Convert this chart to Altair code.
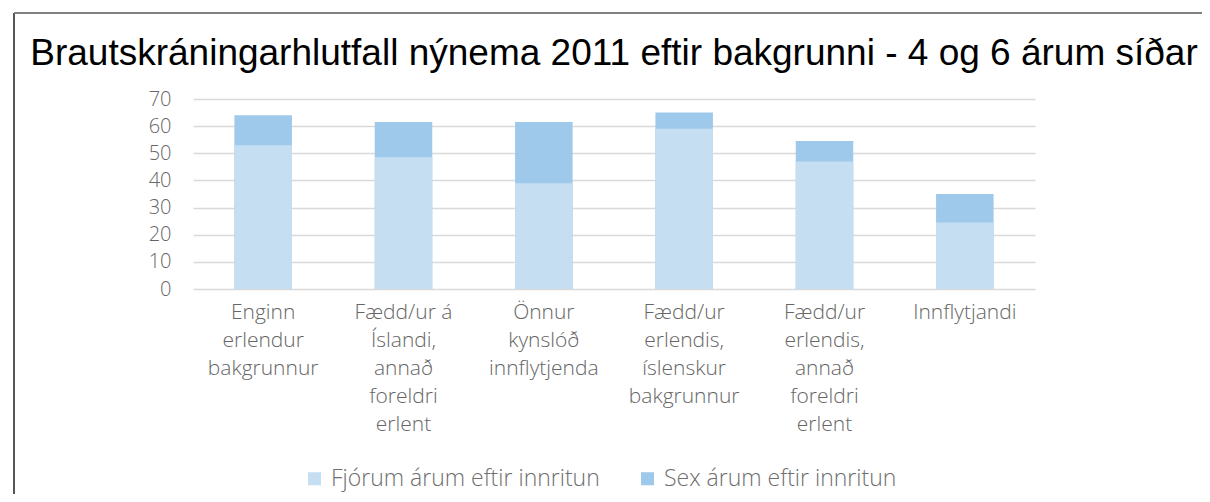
import altair as alt
import pandas as pd

categories = [
    "Enginn\nerlendur\nbakgrunnur",
    "Fædd/ur á\nÍslandi,\nannað\nforeldri\nerlent",
    "Önnur\nkynslóð\ninnflytjenda",
    "Fædd/ur\nerlendis,\níslenskur\nbakgrunnur",
    "Fædd/ur\nerlendis,\nannað\nforeldri\nerlent",
    "Innflytjandi",
]
series = ["Fjórum árum eftir innritun", "Sex árum eftir innritun"]
four_years = [53, 48.5, 39, 59, 47, 24.5]
six_years = [64, 61.5, 61.5, 65, 54.5, 35]
colors = ["#C6DEF2", "#9FC9EA"]

rows = []
for c, v in zip(categories, six_years):
    rows.append({"cat": c, "series": series[1], "value": v, "ord": 0})
for c, v in zip(categories, four_years):
    rows.append({"cat": c, "series": series[0], "value": v, "ord": 1})
df = pd.DataFrame(rows)

W, H = 842, 190
PL, PT = 185, 91

bars = alt.Chart(df).mark_bar().encode(
    x=alt.X("cat:N", sort=categories, title=None,
            scale=alt.Scale(paddingInner=0.59, paddingOuter=0.295),
            axis=alt.Axis(labelAngle=0, labelExpr="split(datum.label, '\\n')",
                          labelFontSize=21, labelLineHeight=28, labelPadding=12,
                          labelColor="#666666", labelFont="Open Sans", labelFontWeight=300,
                          labelLimit=0, ticks=False, domain=False, labelBaseline="top")),
    y=alt.Y("value:Q", stack=None, title=None,
            scale=alt.Scale(domain=[0, 70], nice=False),
            axis=alt.Axis(values=list(range(0, 71, 10)), labelFontSize=20,
                          labelColor="#666666", labelFont="Open Sans", labelFontWeight=300,
                          labelPadding=22, ticks=False, domain=False,
                          gridColor="#D9D9D9", gridWidth=1.5)),
    color=alt.Color("series:N", scale=alt.Scale(domain=series, range=colors),
                    legend=alt.Legend(title=None, orient="none", direction="horizontal",
                                      legendX=110, legendY=368, symbolType="square",
                                      symbolSize=170, symbolStrokeWidth=0,
                                      labelFontSize=23, labelColor="#6E6E6E",
                                      labelFont="Open Sans", labelFontWeight=300,
                                      columnPadding=36, labelOffset=5, labelLimit=0)),
    order=alt.Order("ord:Q"),
)

frame_df = pd.DataFrame({"k": [0]})
left_line = alt.Chart(frame_df).mark_rule(color="#555555", strokeWidth=2).encode(
    x=alt.value(14 - 193), y=alt.value(13 - 99), y2=alt.value(502 - 99))
top_line = alt.Chart(frame_df).mark_rule(color="#808080", strokeWidth=2).encode(
    x=alt.value(14 - 193), x2=alt.value(1210 - 193), y=alt.value(13 - 99))

chart = alt.layer(bars, left_line, top_line).properties(
    width=W, height=H,
    title=alt.TitleParams("Brautskráningarhlutfall nýnema 2011 eftir bakgrunni - 4 og 6 árum síðar",
                          font="Liberation Sans", fontSize=37, fontWeight="normal",
                          color="#000000", anchor="middle", offset=0, dy=90,
                          baseline="alphabetic", frame="group"),
    autosize=alt.AutoSizeParams(type="none"),
    padding={"left": PL, "top": PT, "right": 1194 - PL - W, "bottom": 486 - PT - H},
).configure_view(stroke=None)

chart.save("out.html", embed_options={"renderer": "svg", "actions": False})
